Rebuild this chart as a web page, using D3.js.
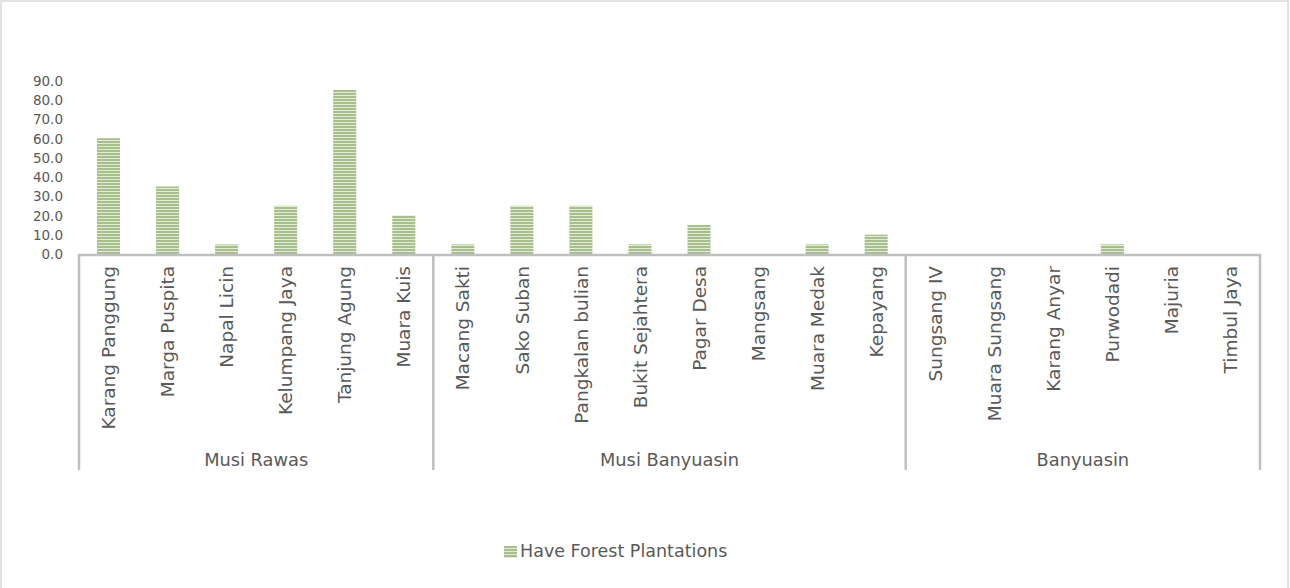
<!DOCTYPE html>
<html>
<head>
<meta charset="utf-8">
<script src="https://cdn.jsdelivr.net/npm/d3@7/dist/d3.min.js"></script>
<style>
  html, body { margin: 0; padding: 0; background: #ffffff; }
  svg { display: block; font-family: "DejaVu Sans", sans-serif; }
</style>
</head>
<body>
<svg id="chart" width="1290" height="588"></svg>
<script>
// Villages, grouped by regency, and the share that have forest plantations
const regencies = ["Musi Rawas", "Musi Banyuasin", "Banyuasin"];
const regencySizes = [6, 8, 6];
const villages = [
  "Karang Panggung", "Marga Puspita", "Napal Licin", "Kelumpang Jaya", "Tanjung Agung", "Muara Kuis",
  "Macang Sakti", "Sako Suban", "Pangkalan bulian", "Bukit Sejahtera", "Pagar Desa", "Mangsang", "Muara Medak", "Kepayang",
  "Sungsang IV", "Muara Sungsang", "Karang Anyar", "Purwodadi", "Majuria", "Timbul Jaya"
];
const forestPlantations = [
  60, 35, 5, 25, 85, 20,
  5, 25, 25, 5, 15, 0, 5, 10,
  0, 0, 0, 5, 0, 0
];
const yTicks = [0, 10, 20, 30, 40, 50, 60, 70, 80, 90];
const seriesName = "Have Forest Plantations";

const svg = d3.select("#chart");
const W = 1290, H = 588;
const plot = { left: 79, right: 1260, top: 80, bottom: 254 };
const textColor = "#595959";
const axisColor = "#bfbfbf";

// outer frame
svg.append("rect")
  .attr("x", 1).attr("y", 1).attr("width", W - 3).attr("height", H + 10)
  .attr("fill", "#ffffff").attr("stroke", "#d9d9d9").attr("stroke-width", 1.5);

// striped fill for the bars
const defs = svg.append("defs");
const pat = defs.append("pattern")
  .attr("id", "stripes").attr("patternUnits", "userSpaceOnUse")
  .attr("width", 6).attr("height", 3);
pat.append("rect").attr("width", 6).attr("height", 3).attr("fill", "#e2ebd8");
pat.append("rect").attr("width", 6).attr("height", 2).attr("fill", "#a6bf8c");

const x = d3.scaleBand()
  .domain(villages)
  .range([plot.left, plot.right])
  .paddingInner(0.61).paddingOuter(0.305);

const y = d3.scaleLinear().domain([0, 90]).range([plot.bottom, plot.bottom - 90 * 1.93]);

// y tick labels (no axis line)
const yAxis = d3.axisLeft(y).tickValues(yTicks).tickFormat(d3.format(".1f")).tickSize(0).tickPadding(0);
const yg = svg.append("g").attr("transform", `translate(63,0)`).call(yAxis);
yg.select(".domain").remove();
yg.selectAll("text")
  .attr("fill", textColor).attr("font-size", "13.5px")
  .attr("font-family", "DejaVu Sans, sans-serif").attr("dy", "0.36em");

// bars
svg.append("g").selectAll("rect")
  .data(villages.map((v, i) => ({ v, val: forestPlantations[i] })))
  .join("rect")
  .attr("x", d => x(d.v))
  .attr("width", x.bandwidth())
  .attr("y", d => y(d.val))
  .attr("height", d => y(0) - y(d.val))
  .attr("fill", "url(#stripes)");

// category axis
const xAxis = d3.axisBottom(x).tickSize(0).tickPadding(0);
const xg = svg.append("g").attr("transform", `translate(0,${plot.bottom})`).call(xAxis);
xg.select(".domain").remove();
xg.selectAll("text")
  .attr("fill", textColor).attr("font-size", "18.5px")
  .attr("font-family", "DejaVu Sans, sans-serif")
  .attr("text-anchor", "end")
  .attr("transform", "rotate(-90)")
  .attr("x", -12).attr("y", 0).attr("dy", "0.36em");

// axis baseline
svg.append("line")
  .attr("x1", plot.left - 1).attr("x2", plot.right + 1)
  .attr("y1", plot.bottom + 1).attr("y2", plot.bottom + 1)
  .attr("stroke", axisColor).attr("stroke-width", 2.5);

// regency separators and labels
const groupBottom = 470;
let start = 0;
const bounds = [];
regencySizes.forEach((n, gi) => {
  const x0 = x(villages[start]) - x.step() * x.paddingOuter();
  const last = villages[start + n - 1];
  const x1 = x(last) + x.bandwidth() + x.step() * x.paddingInner() / 2;
  bounds.push([x0, Math.min(x1, plot.right)]);
  start += n;
});
const edges = [bounds[0][0]].concat(bounds.map(b => b[1]));
svg.append("g").selectAll("line")
  .data(edges)
  .join("line")
  .attr("x1", d => d).attr("x2", d => d)
  .attr("y1", plot.bottom).attr("y2", groupBottom)
  .attr("stroke", axisColor).attr("stroke-width", 2.5);

svg.append("g").selectAll("text")
  .data(regencies)
  .join("text")
  .attr("x", (d, i) => (bounds[i][0] + bounds[i][1]) / 2)
  .attr("y", 466)
  .attr("text-anchor", "middle")
  .attr("fill", textColor).attr("font-size", "17.8px")
  .text(d => d);

// legend
const lg = svg.append("g").attr("transform", "translate(504,546)");
lg.append("rect").attr("width", 13).attr("height", 12).attr("fill", "url(#stripes)");
lg.append("text").attr("x", 16).attr("y", 11)
  .attr("fill", textColor).attr("font-size", "17.5px")
  .text(seriesName);
</script>
</body>
</html>
